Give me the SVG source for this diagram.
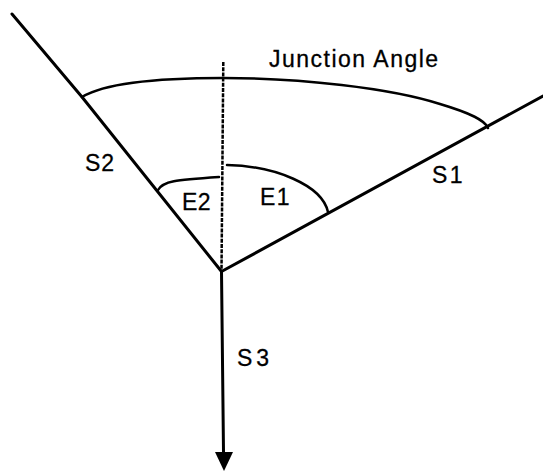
<svg xmlns="http://www.w3.org/2000/svg" width="543" height="471" viewBox="0 0 543 471">
<style>
.ln{fill:none;stroke:#000;stroke-width:3;stroke-linecap:round;stroke-linejoin:round}
.arc{fill:none;stroke:#000;stroke-width:2.5;stroke-linecap:round}
.dash{fill:none;stroke:#000;stroke-width:2.5;stroke-dasharray:4 1.2}
.lbl{font-family:"Liberation Sans",Arial,sans-serif;font-size:23px;fill:#000;stroke:#000;stroke-width:0.3}
</style>
<rect width="543" height="471" fill="#fff"/>
<g id="connectors">
<polyline id="s2" class="ln" points="12,14 82,97 221.5,271.5"/>
<line id="s1" class="ln" x1="221.5" y1="271.5" x2="543" y2="96"/>
<path id="s3" class="ln" d="M221.5,271.5 L223.5,452"/>
<path id="s3-head" d="M215,452 L233,452 L224,471 Z" fill="#000"/>
<line id="axis" class="dash" x1="223.3" y1="62" x2="221.5" y2="271.5"/>
</g>
<g id="arcs">
<path id="junction-arc" class="arc" d="M82,97 C110,80 180,78 223,78 C300,78 390,88 440,104 C470,113 485,120 488,128"/>
<path id="e1-arc" class="arc" d="M227,165 C275,166 322,185 328,212"/>
<path id="e2-arc" class="arc" d="M158,190 C163,181 175,180 219,177"/>
</g>
<g id="labels">
<text class="lbl" x="269" y="67" letter-spacing="1.5">Junction Angle</text>
<text class="lbl" x="85" y="171" letter-spacing="1">S2</text>
<text class="lbl" x="432" y="183" letter-spacing="2.5">S1</text>
<text class="lbl" x="237" y="366" letter-spacing="4">S3</text>
<text class="lbl" x="182" y="210" letter-spacing="0.5">E2</text>
<text class="lbl" x="260" y="205" letter-spacing="1.5">E1</text>
</g>
</svg>
